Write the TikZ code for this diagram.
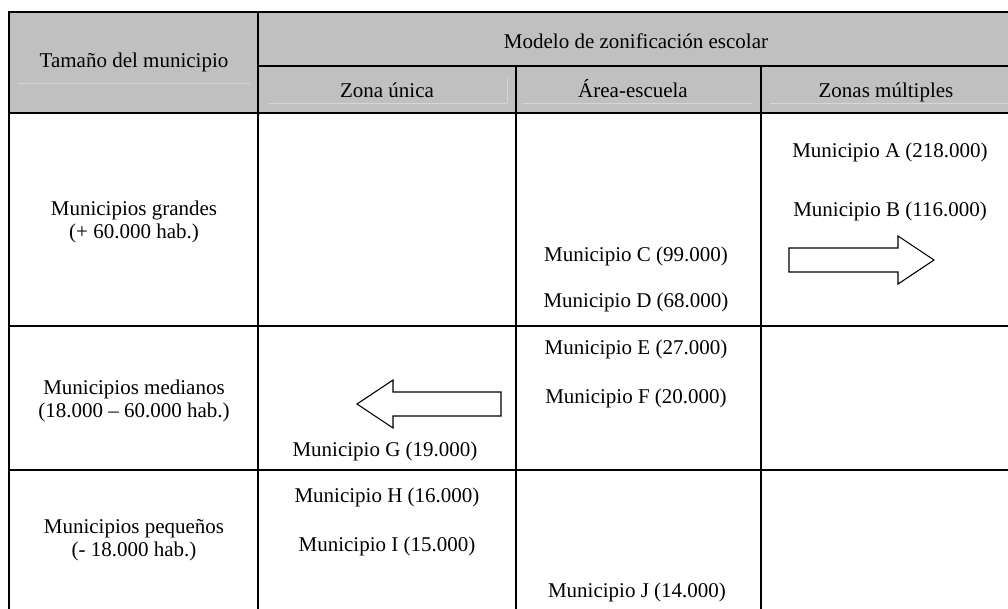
\documentclass[tikz,border=0pt]{standalone}
\usepackage{fontspec}
\setmainfont{Liberation Serif}
\usepackage{xcolor}
\usepackage{tikz}
\usetikzlibrary{calc}
\definecolor{headgray}{HTML}{C0C0C0}
\definecolor{faint}{HTML}{D6D6D6}
\tikzset{
  frame/.style={draw=black, line width=2.7pt},
  rule/.style={draw=black, line width=2pt},
  thinrule/.style={draw=black, line width=1.6pt},
  ghost/.style={draw=faint, line width=0.7pt},
  blockarr/.style={draw=black, fill=white, line width=1.1pt, line join=miter},
  lab/.style={anchor=base, inner sep=0pt, font=\fontsize{21}{25}\selectfont},
}

\begin{document}
\begin{tikzpicture}[x=1pt,y=-1pt]
  \useasboundingbox (0,0) rectangle (1008,608);
  \clip (0,0) rectangle (1008,608);

  % header band
  \fill[headgray] (9,12) rectangle (1015,113);
  \draw[ghost] (18,83)--(250,83);
  \draw[ghost] (268,103)--(507,103) (507,78)--(507,103);
  \draw[ghost] (523,103)--(752,103);
  \draw[ghost] (770,103)--(1010,103);

  % grid
  \draw[thinrule] (258,66)--(1015,66);
  \draw[rule] (258,12)--(258,620);
  \draw[rule] (516,66)--(516,620);
  \draw[rule] (761,66)--(761,620);
  \draw[frame] (9,620)--(9,12)--(1015,12)--(1015,620);
  \draw[frame] (9,113)--(1015,113);
  \draw[frame] (9,326)--(1015,326);
  \draw[frame] (9,470)--(1015,470);

  % header texts
  \node[lab] (tam) at (134,67) {Tamaño del municipio};
  \node[lab] (mod) at (636,48) {Modelo de zonificación escolar};
  \node[lab] (zu) at (387,97) {Zona única};
  \node[lab] (ae) at (633,97) {Área-escuela};
  \node[lab] (zm) at (886,97) {Zonas múltiples};

  % grandes
  \node[lab] (gr1) at (134,215) {Municipios grandes};
  \node[lab] (gr2) at (134,238) {(+ 60.000 hab.)};
  \node[lab] (mA) at (890,157) {Municipio A (218.000)};
  \node[lab] (mB) at (890,216) {Municipio B (116.000)};
  \node[lab] (mC) at (636,261) {Municipio C (99.000)};
  \node[lab] (mD) at (636,307) {Municipio D (68.000)};
  \draw[blockarr] (789,248)--(898,248)--(898,236)--(934,260)--(898,284)--(898,272)--(789,272)--cycle;

  % medianos
  \node[lab] (me1) at (134,394) {Municipios medianos};
  \node[lab] (me2) at (134,417) {(18.000 -- 60.000 hab.)};
  \node[lab] (mE) at (636,354) {Municipio E (27.000)};
  \node[lab] (mF) at (636,403) {Municipio F (20.000)};
  \node[lab] (mG) at (385,456) {Municipio G (19.000)};
  \draw[blockarr] (501,392)--(393,392)--(393,380)--(357,404)--(393,428)--(393,416)--(501,416)--cycle;

  % pequenos
  \node[lab] (pe1) at (134,533) {Municipios pequeños};
  \node[lab] (pe2) at (134,556) {(- 18.000 hab.)};
  \node[lab] (mH) at (387,502) {Municipio H (16.000)};
  \node[lab] (mI) at (387,551) {Municipio I (15.000)};
  \node[lab] (mJ) at (637,597) {Municipio J (14.000)};
\end{tikzpicture}
\end{document}
